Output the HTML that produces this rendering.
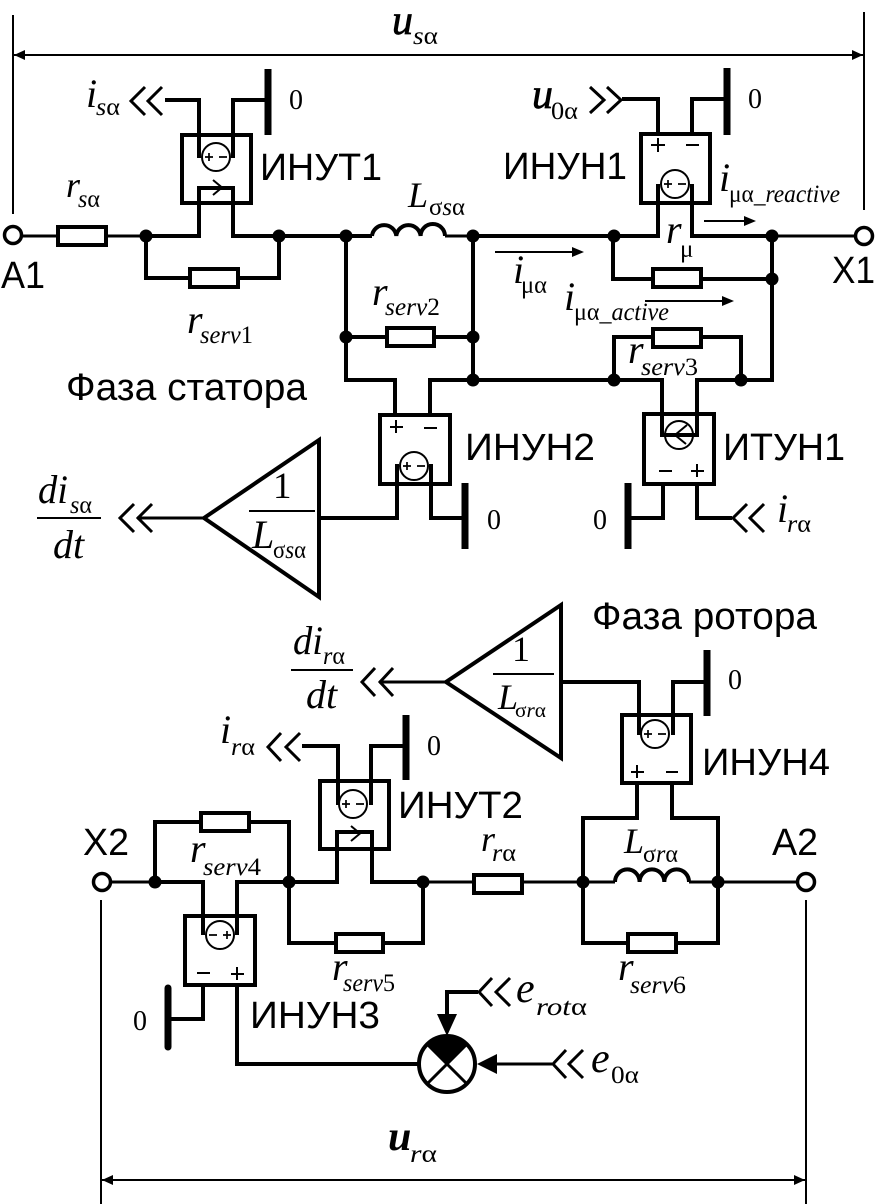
<!DOCTYPE html>
<html><head><meta charset="utf-8"><style>
html,body{margin:0;padding:0;background:#fff}
svg{display:block}
.w{fill:none;stroke:#000;stroke-width:4;stroke-linejoin:miter;stroke-linecap:butt}
.t{fill:none;stroke:#000;stroke-width:3}
.d{fill:none;stroke:#000;stroke-width:2}
.v{fill:none;stroke:#000;stroke-width:3}
.r{fill:#fff;stroke:#000;stroke-width:4}
.c{fill:#fff;stroke:#000;stroke-width:2}
.o{fill:#fff;stroke:#000;stroke-width:3.5}
.b{fill:none;stroke:#000;stroke-width:7}
.s{font-family:"Liberation Sans",sans-serif;font-size:38px;fill:#000}
.m{font-family:"Liberation Serif",serif;font-style:italic;font-size:40px;fill:#000}
.n{font-family:"Liberation Serif",serif;font-size:28px;fill:#000}
.u{font-family:"Liberation Serif",serif;font-style:italic;font-size:25px;fill:#000}
.u tspan{font-style:normal}
.h{stroke:#000;stroke-width:.7;font-size:42px}
</style></head><body>
<svg width="875" height="1204" viewBox="0 0 875 1204" xmlns="http://www.w3.org/2000/svg">
<rect width="875" height="1204" fill="#fff"/>
<defs>
<g id="src"><circle class="c" r="14"/><path d="M-11 0h8M-7-4v8M3 0h8" stroke="#000" stroke-width="1.7" fill="none"/></g>
<g id="srcr"><circle class="c" r="14"/><path d="M-11 0h8M3 0h8M7-4v8" stroke="#000" stroke-width="1.7" fill="none"/></g>
</defs>

<!-- dimension lines -->
<path class="d" d="M13 15V214M864 12V210M14 55H863M101 900V1204M806 900V1204M102 1180H805"/>
<path d="M14 55l11-5v10zM863 55l-11-5v10zM102 1180l11-5v10zM805 1180l-11-5v10z"/>

<!-- thin current arrows -->
<path class="d" d="M495 252H572M645 301H723M704 221H745"/>
<path d="M584 252l-12-5v10zM734 301l-12-5v10zM756 221l-12-5v10z"/>

<!-- Stator main wires -->
<path class="t" d="M22 236H58M106 236H146"/>
<path class="w" d="M146 236H199V188H233V236H346H372"/>
<path class="w" d="M146 236V278H279V236"/>
<path class="t" d="M445 236H473"/>
<path class="w" d="M473 236H658V184M692 184V236H772"/>
<path class="t" d="M772 236H855"/>
<path class="w" d="M346 236V380H395V415M430 415V380H662V435H697V380H772V236"/>
<path class="w" d="M473 236V380M346 337H473"/>
<path class="w" d="M613 236V279H772M614 380V337H741V380"/>

<!-- inductor 1 -->
<path class="w" stroke-width="3" d="M372 236A12.2 12 0 0 1 396.3 236A12.2 12 0 0 1 420.6 236A12.2 12 0 0 1 445 236"/>

<!-- resistors stator -->
<rect class="r" x="58" y="227" width="48" height="18"/>
<rect class="r" x="190" y="269" width="48" height="18"/>
<rect class="r" x="387" y="328" width="47" height="18"/>
<rect class="r" x="653" y="269" width="48" height="18"/>
<rect class="r" x="653" y="329" width="48" height="18"/>

<!-- INUT1 -->
<rect class="w" x="182" y="135" width="69" height="68"/>
<path class="w" d="M165 100H199V158M233 158V100H268"/>
<use href="#src" x="216" y="157"/>
<path class="w" stroke-width="4" d="M199 203V188H233V203"/>
<path class="d" d="M213 180l9 7.5-9 7.5"/>
<path class="b" d="M268 69V135"/>
<path class="v" d="M145 87L131 101L145 115M162 87L148 101L162 115"/>

<!-- INUN1 -->
<rect class="w" x="641" y="134" width="69" height="69"/>
<path class="w" d="M622 99H658V134M692 134V99H727"/>
<use href="#src" x="675" y="184"/>
<path class="b" d="M727 68V135"/>
<path class="v" d="M590 87L604 100L590 113M607 87L621 100L607 113"/>
<path d="M651 145h14M658 138v14M686 145h13" stroke="#000" stroke-width="2" fill="none"/>

<!-- INUN2 -->
<rect class="w" x="380" y="415" width="70" height="69"/>
<use href="#src" x="414" y="466"/>
<path class="w" d="M397 464V518H319M431 464V518H465"/>
<path class="b" d="M465 483V549"/>
<path d="M390 427h13M396 420v13M424 428h13" stroke="#000" stroke-width="2" fill="none"/>

<!-- ITUN1 -->
<rect class="w" x="644" y="414" width="70" height="70"/>
<circle class="c" cx="679" cy="435" r="14"/>
<path class="w" d="M662 380V435H697V380"/>
<path class="d" d="M687 425L675 435L686 444"/>
<path class="w" d="M663 484V518H630M697 484V518H732"/>
<path class="b" d="M628 483V549"/>
<path class="v" d="M747 504L733 518L747 532M764 504L750 518L764 532"/>
<path d="M659 471h13M691 471h13M697 464v13" stroke="#000" stroke-width="2" fill="none"/>

<!-- triangle 1 -->
<path class="w" d="M319 440V597L204 518Z"/>
<path class="t" d="M204 518H137"/>
<path class="v" d="M134 504L120 518L134 532M152 504L138 518L152 532"/>
<path stroke="#000" stroke-width="2" d="M249 511H315"/>
<path stroke="#000" stroke-width="2" d="M37 518H101"/>

<!-- triangle 2 -->
<path class="w" d="M561 605V758L446 682Z"/>
<path class="t" d="M446 682H379"/>
<path class="v" d="M375 668L362 682L375 696M393 668L380 682L393 696"/>
<path stroke="#000" stroke-width="2" d="M493 674H554"/>
<path stroke="#000" stroke-width="2" d="M291 670H353"/>

<!-- INUN4 -->
<path class="w" d="M561 682H639V735M673 735V682H707"/>
<rect class="w" x="622" y="715" width="69" height="68"/>
<use href="#src" x="655" y="734"/>
<path class="w" d="M639 735V716M673 735V716"/>
<path class="b" d="M707 650V716"/>
<path d="M631 772h13M637 765v13M666 772h12" stroke="#000" stroke-width="2" fill="none"/>
<path class="w" d="M637 783V818H583V943H718V818H672V783"/>

<!-- Rotor main wire -->
<path class="t" d="M111 882H155M423 882H474M522 882H583M583 882H615M689 882H718M718 882H797"/>
<path class="w" d="M155 882V822H289V882M155 882H203V935M237 935V882H337V832H372V882H423"/>
<path class="w" d="M289 882V943H423V882"/>
<path class="w" stroke-width="3" d="M615 882A12.2 12.5 0 0 1 639.6 882A12.2 12.5 0 0 1 664.3 882A12.2 12.5 0 0 1 689 882"/>
<rect class="r" x="201" y="813" width="48" height="18"/>
<rect class="r" x="336" y="934" width="47" height="18"/>
<rect class="r" x="474" y="875" width="48" height="18"/>
<rect class="r" x="628" y="934" width="48" height="18"/>

<!-- INUT2 -->
<rect class="w" x="320" y="781" width="69" height="68"/>
<path class="w" d="M302 746H338V805M371 805V746H406"/>
<use href="#src" x="353" y="804"/>
<path class="w" d="M337 849V832H372V849"/>
<path class="d" d="M351 826l9 7.5-9 7.5"/>
<path class="b" d="M406 715V780"/>
<path class="v" d="M281 733L268 747L281 761M300 733L286 747L300 761"/>

<!-- INUN3 -->
<rect class="w" x="185" y="916" width="70" height="69"/>
<use href="#srcr" x="220" y="935"/>
<path class="w" d="M203 882V935M237 882V935M203 986V1019H170M237 986V1064H418"/>
<path d="M168 988V1047" stroke="#000" stroke-width="7" stroke-linecap="round" fill="none"/>
<path d="M197 973h13M231 974h13M237 967v13" stroke="#000" stroke-width="2" fill="none"/>

<!-- summator -->
<circle cx="447" cy="1064" r="28" fill="#fff" stroke="#000" stroke-width="4"/>
<path d="M447 1064L427 1044A28 28 0 0 1 467 1044Z"/>
<path class="t" d="M427 1044L467 1084M467 1044L427 1084"/>
<path class="w" d="M478 992H447V1018"/>
<path d="M447 1036L437 1014H457Z"/>
<path class="t" d="M552 1064H495"/>
<path d="M477 1064L497 1054V1074Z"/>
<path class="v" d="M492 978L479 992L492 1006M510 978L496 992L510 1006"/>
<path class="v" d="M566 1050L553 1064L566 1078M583 1050L569 1064L583 1078"/>

<!-- terminals -->
<circle class="o" cx="13" cy="235" r="8.5"/>
<circle class="o" cx="864" cy="236" r="8.5"/>
<circle class="o" cx="102" cy="882" r="8.5"/>
<circle class="o" cx="806" cy="882" r="8.5"/>

<!-- nodes -->
<g fill="#000">
<circle cx="146" cy="236" r="6.5"/><circle cx="279" cy="236" r="6.5"/><circle cx="346" cy="236" r="6.5"/>
<circle cx="473" cy="236" r="6.5"/><circle cx="614" cy="236" r="6.5"/><circle cx="772" cy="236" r="6.5"/>
<circle cx="772" cy="279" r="6.5"/><circle cx="346" cy="337" r="6.5"/><circle cx="473" cy="337" r="6.5"/>
<circle cx="473" cy="380" r="6.5"/><circle cx="614" cy="380" r="6.5"/><circle cx="741" cy="380" r="6.5"/>
<circle cx="155" cy="882" r="6.5"/><circle cx="289" cy="882" r="6.5"/><circle cx="423" cy="882" r="6.5"/>
<circle cx="583" cy="882" r="6.5"/><circle cx="718" cy="882" r="6.5"/>
</g>

<!-- sans labels -->
<text class="s" x="260" y="180" textLength="122" lengthAdjust="spacingAndGlyphs">ИНУТ1</text>
<text class="s" x="503" y="179" textLength="124" lengthAdjust="spacingAndGlyphs">ИНУН1</text>
<text class="s" x="465" y="460" textLength="130" lengthAdjust="spacingAndGlyphs">ИНУН2</text>
<text class="s" x="723" y="460" textLength="122" lengthAdjust="spacingAndGlyphs">ИТУН1</text>
<text class="s" x="398" y="818" textLength="125" lengthAdjust="spacingAndGlyphs">ИНУТ2</text>
<text class="s" x="702" y="775" textLength="128" lengthAdjust="spacingAndGlyphs">ИНУН4</text>
<text class="s" x="250" y="1028" textLength="130" lengthAdjust="spacingAndGlyphs">ИНУН3</text>
<text class="s" x="1" y="288" textLength="44" lengthAdjust="spacingAndGlyphs">A1</text>
<text class="s" x="832" y="283" textLength="43" lengthAdjust="spacingAndGlyphs">X1</text>
<text class="s" x="83" y="855" textLength="46" lengthAdjust="spacingAndGlyphs">X2</text>
<text class="s" x="772" y="855" textLength="46" lengthAdjust="spacingAndGlyphs">A2</text>
<text class="s" x="66" y="400" textLength="241" lengthAdjust="spacingAndGlyphs">Фаза статора</text>
<text class="s" x="592" y="629" textLength="225" lengthAdjust="spacingAndGlyphs">Фаза ротора</text>

<!-- zeros -->
<text class="n" x="289" y="109">0</text>
<text class="n" x="748" y="108">0</text>
<text class="n" x="487" y="529">0</text>
<text class="n" x="593" y="529">0</text>
<text class="n" x="427" y="755">0</text>
<text class="n" x="728" y="689">0</text>
<text class="n" x="133" y="1030">0</text>

<!-- math -->
<text class="m h" x="392" y="34">u</text><text class="u" x="413" y="44" textLength="25" lengthAdjust="spacingAndGlyphs">s<tspan>α</tspan></text>
<text class="m" x="86" y="107">i</text><text class="u" x="96" y="115" textLength="24" lengthAdjust="spacingAndGlyphs">s<tspan>α</tspan></text>
<text class="m" x="66" y="197" style="font-size:36px">r</text><text class="u" x="78" y="207" textLength="22" lengthAdjust="spacingAndGlyphs">s<tspan>α</tspan></text>
<text class="m" x="187" y="333">r</text><text class="u" x="200" y="343" textLength="53" lengthAdjust="spacingAndGlyphs">serv<tspan>1</tspan></text>
<text class="m" x="408" y="207" style="font-size:36px">L</text><text class="u" x="429" y="215" textLength="36" lengthAdjust="spacingAndGlyphs"><tspan>σ</tspan>s<tspan>α</tspan></text>
<text class="m" x="372" y="305">r</text><text class="u" x="385" y="315" textLength="55" lengthAdjust="spacingAndGlyphs">serv<tspan>2</tspan></text>
<text class="m h" x="532" y="108">u</text><text class="u" x="551" y="119" textLength="27" lengthAdjust="spacingAndGlyphs"><tspan>0α</tspan></text>
<text class="m" x="719" y="191">i</text><text class="u" x="729" y="202" textLength="111" lengthAdjust="spacingAndGlyphs"><tspan>μα</tspan>_reactive</text>
<text class="m" x="666" y="243">r</text><text class="u" x="680" y="257"><tspan>μ</tspan></text>
<text class="m" x="513" y="283">i</text><text class="u" x="521" y="293" textLength="26" lengthAdjust="spacingAndGlyphs"><tspan>μα</tspan></text>
<text class="m" x="564" y="310">i</text><text class="u" x="574" y="320" textLength="95" lengthAdjust="spacingAndGlyphs"><tspan>μα</tspan>_active</text>
<text class="m" x="628" y="363">r</text><text class="u" x="641" y="375" textLength="57" lengthAdjust="spacingAndGlyphs">serv<tspan>3</tspan></text>
<text class="m" x="777" y="522">i</text><text class="u" x="787" y="532" textLength="24" lengthAdjust="spacingAndGlyphs">r<tspan>α</tspan></text>

<text class="n" x="273" y="498" style="font-size:37px">1</text>
<text class="m" x="252" y="548">L</text><text class="u" x="273" y="558" textLength="33" lengthAdjust="spacingAndGlyphs"><tspan>σ</tspan>s<tspan>α</tspan></text>
<text class="m" x="38" y="503" textLength="30" lengthAdjust="spacingAndGlyphs">di</text><text class="u" x="70" y="513" textLength="22" lengthAdjust="spacingAndGlyphs">s<tspan>α</tspan></text>
<text class="m" x="53" y="558">dt</text>

<text class="m" x="293" y="654" textLength="30" lengthAdjust="spacingAndGlyphs">di</text><text class="u" x="323" y="664" textLength="22" lengthAdjust="spacingAndGlyphs">r<tspan>α</tspan></text>
<text class="m" x="306" y="708">dt</text>
<text class="n" x="512" y="661" style="font-size:36px">1</text>
<text class="m" x="498" y="709" style="font-size:36px">L</text><text class="u" x="515" y="717" style="font-size:21px" textLength="31" lengthAdjust="spacingAndGlyphs"><tspan>σ</tspan>r<tspan>α</tspan></text>
<text class="m" x="220" y="743">i</text><text class="u" x="231" y="755" textLength="24" lengthAdjust="spacingAndGlyphs">r<tspan>α</tspan></text>

<text class="m" x="190" y="862">r</text><text class="u" x="203" y="875" textLength="58" lengthAdjust="spacingAndGlyphs">serv<tspan>4</tspan></text>
<text class="m" x="332" y="980">r</text><text class="u" x="343" y="991" textLength="52" lengthAdjust="spacingAndGlyphs">serv<tspan>5</tspan></text>
<text class="m" x="618" y="980">r</text><text class="u" x="630" y="993" textLength="56" lengthAdjust="spacingAndGlyphs">serv<tspan>6</tspan></text>
<text class="m" x="481" y="851" style="font-size:36px">r</text><text class="u" x="492" y="861" textLength="24" lengthAdjust="spacingAndGlyphs">r<tspan>α</tspan></text>
<text class="m" x="624" y="853" style="font-size:36px">L</text><text class="u" x="643" y="862" textLength="35" lengthAdjust="spacingAndGlyphs"><tspan>σ</tspan>r<tspan>α</tspan></text>
<text class="m" x="516" y="1002" style="font-size:42px">e</text><text class="u" x="536" y="1015" textLength="51" lengthAdjust="spacingAndGlyphs">rot<tspan>α</tspan></text>
<text class="m" x="591" y="1072" style="font-size:42px">e</text><text class="u" x="611" y="1083" textLength="28" lengthAdjust="spacingAndGlyphs"><tspan>0α</tspan></text>
<text class="m" x="388" y="1150" style="font-size:42px;font-weight:bold">u</text><text class="u" x="410" y="1162" textLength="27" lengthAdjust="spacingAndGlyphs">r<tspan>α</tspan></text>
</svg>
</body></html>
